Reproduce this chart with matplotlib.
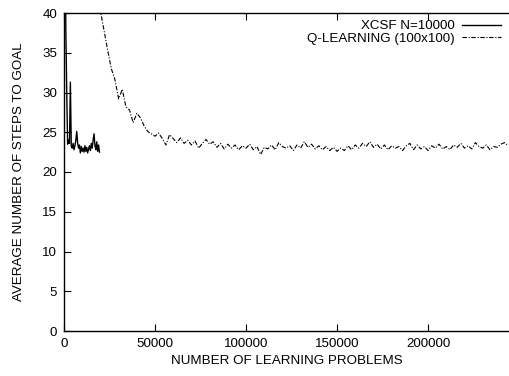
import numpy as np
import matplotlib
matplotlib.use("Agg")
import matplotlib.pyplot as plt

plt.rcParams['font.family'] = ['Liberation Sans', 'DejaVu Sans']

# XCSF run, sampled every 500 learning problems
xcsf_step = 500
xcsf_steps = [150, 60, 38, 30, 23.5, 24.0, 23.6, 31.3, 23.2, 23.0,
              23.6, 22.8, 23.3, 24.0, 25.1, 23.6, 23.0, 23.4, 22.4, 23.2,
              22.6, 23.0, 22.5, 23.3, 22.6, 23.1, 22.4, 22.9, 23.3, 22.7,
              23.6, 23.0, 24.0, 24.8, 23.3, 22.8, 23.8, 22.6, 23.4, 22.5]

# Tabular Q-learning on a 100x100 grid, sampled every 2000 problems
q_step = 2000
q_steps = [160, 120, 95, 80, 68, 60, 53, 48, 45, 42.5,
           40.2, 37.8, 35.3, 33.0, 31.6, 29.2, 30.4, 28.2, 27.8, 26.2,
           27.4, 26.8, 25.8, 25.1, 24.8, 24.5, 24.9, 24.2, 23.4, 24.7,
           24.2, 23.7, 24.3, 23.6, 24.0, 23.4, 23.9, 23.0, 23.6, 24.1,
           23.5, 23.8, 23.1, 23.6, 22.9, 23.5, 23.0, 23.4, 22.8, 23.3,
           23.0, 23.5, 22.8, 23.2, 22.2, 23.1, 22.9, 23.4, 22.8, 23.7,
           23.2, 23.0, 23.3, 22.7, 23.4, 23.0, 23.8, 23.1, 23.5, 22.9,
           23.3, 22.8, 23.2, 22.7, 23.1, 22.6, 23.0, 22.7, 23.3, 22.8,
           23.4, 23.0, 23.6, 23.2, 23.8, 23.1, 23.5, 22.9, 23.4, 22.8,
           23.3, 23.0, 23.2, 22.7, 23.3, 23.6, 22.8, 23.4, 22.9, 23.2,
           22.7, 23.3, 23.0, 23.5, 22.9, 23.2, 22.8, 23.4, 23.1, 23.6,
           23.0, 23.3, 22.9, 23.7, 23.2, 23.0, 23.4, 22.8, 23.2, 23.1,
           23.5, 23.7, 23.3]

x_ticks = [0, 50000, 100000, 150000, 200000]
y_ticks = [0, 5, 10, 15, 20, 25, 30, 35, 40]

xcsf_x = np.arange(len(xcsf_steps)) * xcsf_step
q_x = np.arange(len(q_steps)) * q_step

fs = 9.6
fig = plt.figure(figsize=(5.09, 3.76), dpi=100)
ax = fig.add_axes([64 / 509, 45 / 376, 446 / 509, 318 / 376])

ax.plot(xcsf_x, xcsf_steps, color='black', lw=1.0, label='XCSF N=10000')
ax.plot(q_x, q_steps, color='black', lw=0.8, ls=(0, (4, 1.5, 1, 1.5)),
        label='Q-LEARNING (100x100)')

ax.set_xlim(0, 245000)
ax.set_ylim(0, 40)
ax.set_xticks(x_ticks)
ax.set_xticklabels([str(t) for t in x_ticks])
ax.set_yticks(y_ticks)

for s in ax.spines.values():
    s.set_linewidth(1.0)
ax.spines['right'].set_visible(False)

ax.tick_params(direction='in', length=5, width=0.8, labelsize=fs,
               top=True, right=False, pad=5)

ax.set_xlabel('NUMBER OF LEARNING PROBLEMS', fontsize=fs, labelpad=4)
ax.set_ylabel('AVERAGE NUMBER OF STEPS TO GOAL', fontsize=fs, labelpad=12)

leg = fig.legend(loc='upper right', bbox_to_anchor=(501 / 509, 1 - 20 / 376),
                 frameon=False, fontsize=fs, markerfirst=False,
                 handlelength=2.9, handletextpad=0.6, labelspacing=0.0,
                 borderaxespad=0, borderpad=0)
for t in leg.get_texts():
    t.set_ha('right')

fig.savefig('out.png', dpi=100)
